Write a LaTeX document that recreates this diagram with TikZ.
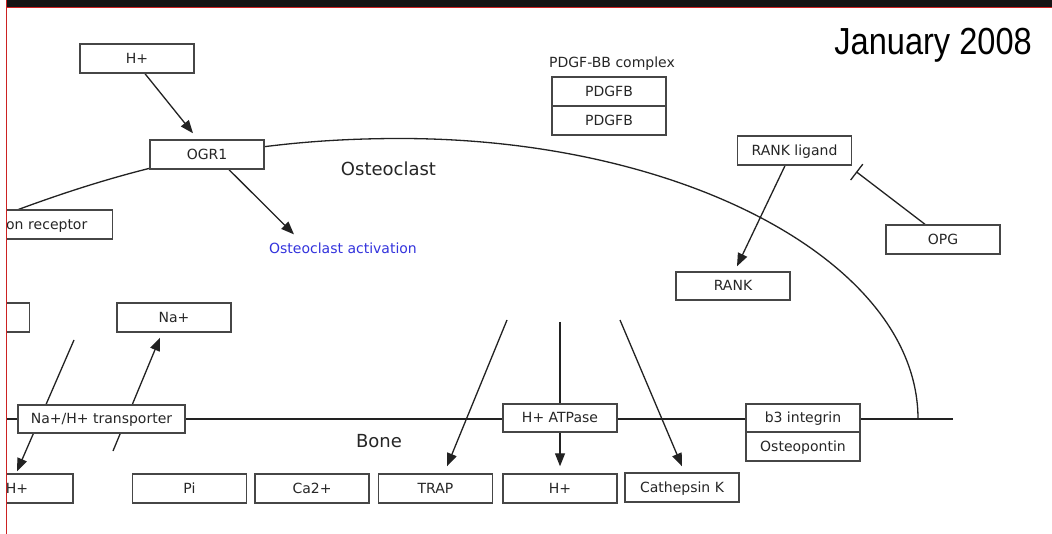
\documentclass[tikz,border=0pt]{standalone}
\usepackage{fontspec}
\setmainfont{DejaVu Sans}
\newfontfamily\datefont{Liberation Sans}
\usetikzlibrary{arrows.meta,calc}
\pgfdeclarelayer{paper}
\pgfdeclarelayer{background}
\pgfsetlayers{paper,background,main}
\definecolor{inkline}{RGB}{34,34,34}
\definecolor{boxline}{RGB}{70,70,70}
\definecolor{labelblue}{RGB}{51,51,221}
\definecolor{framered}{RGB}{204,34,34}
\definecolor{topband}{RGB}{21,21,21}
\begin{document}
\begin{tikzpicture}[x=1pt,y=-1pt,
  entity/.style={draw=boxline, line width=1.4pt, fill=white, minimum width=114pt,
    minimum height=29pt, inner sep=0pt, text height=10.5pt, text depth=1pt,
    font=\fontsize{14}{16}\selectfont, text=black!85},
  caption/.style={inner sep=0pt, font=\fontsize{14}{16}\selectfont, text=black!85},
  region/.style={inner sep=0pt, font=\fontsize{18}{21}\selectfont, text=black!85},
  conn/.style={draw=inkline, line width=1.3pt},
  activates/.style={conn, -{Triangle[length=13pt,width=10pt]}},
  inhibits/.style={conn, -{Bar[width=20pt]}},
]
\useasboundingbox (0,0) rectangle (1052,534);
\begin{pgfonlayer}{paper}
\fill[white] (0,0) rectangle (1052,534);
\end{pgfonlayer}

\begin{scope}
\clip (7,8) rectangle (1052,534);
% entities
\node[entity] (hTop) at (137,58.5) {H+};
\node[entity] (ogr) at (207,154.5) {OGR1};
\node[entity, anchor=east, minimum width=0pt, text width=100pt, align=right,
      inner xsep=25pt] (calrec) at (113,224.5) {on receptor};
\node[entity, anchor=east] (ghost) at (30,317.5) {};
\node[entity] (na) at (174,317.5) {Na+};
\node[entity, minimum width=167pt, minimum height=28pt] (nht) at (101.5,419) {Na+/H+ transporter};
\node[entity, minimum width=112pt] (hLeft) at (17,488.5) {H+};
\node[entity] (pi) at (189.5,488.5) {Pi};
\node[entity] (ca) at (312,488.5) {Ca2+};
\node[entity] (trap) at (435.5,488.5) {TRAP};
\node[entity] (hMid) at (560,488.5) {H+};
\node[entity] (cat) at (682,487.5) {Cathepsin K};
\node[entity, minimum height=28pt] (atp) at (560,418) {H+ ATPase};
\node[entity, minimum height=28pt] (b3) at (803,418) {b3 integrin};
\node[entity] (opn) at (803,446.5) {Osteopontin};
\node[entity] (rankl) at (794.5,150.5) {RANK ligand};
\node[entity, minimum height=28pt] (rank) at (733,286) {RANK};
\node[entity] (opg) at (943,239.5) {OPG};
\node[entity] (pdgfA) at (609,91.5) {PDGFB};
\node[entity] (pdgfB) at (609,120.5) {PDGFB};
% labels
\node[caption] (cplx) at (612,64) {PDGF-BB complex};
\node[region] (cell) at (388.5,169) {Osteoclast};
\node[region] (bone) at (379,441) {Bone};
\node[caption, text=labelblue] (act) at (343,248) {Osteoclast activation};
\node[anchor=base east, inner sep=0pt, font=\datefont\fontsize{37.7}{40}\selectfont]
  (date) at (1032,55) {\scalebox{0.864}[1]{January 2008}};
\end{scope}

% membranes and interactions, kept behind the boxes
\begin{pgfonlayer}{background}
\coordinate (memL) at (7,419);
\coordinate (memR) at (953,419);
\draw[conn] (memL) -- (memR);
% osteoclast outline
\coordinate (cellL) at (17,210);
\coordinate (cellTop) at (400,138.5);
\coordinate (cellR) at (918,419);
\draw[conn] (cellL) .. controls (137,165.6) and (250,138.5) .. (cellTop)
  .. controls (686,138.5) and (918,264) .. (cellR);
\draw[activates] ([xshift=8pt]hTop.south) -- ([xshift=-14pt,yshift=6pt]ogr.north);
\draw[activates] ([xshift=22pt]ogr.south) -- ($(act.north)+(-49,-8)$);
\coordinate (naSrc) at (113,451);
\draw[activates] (naSrc) -- ([xshift=-14pt,yshift=-5pt]na.south);
\coordinate (hSrc) at (74,340);
\draw[activates] (hSrc) -- ([yshift=2pt]hLeft.north);
\coordinate (trapSrc) at (507,320);
\draw[activates] (trapSrc) -- ([xshift=11.5pt,yshift=7pt]trap.north);
\coordinate (hMidSrc) at (560,322);
\draw[activates] (hMidSrc) -- ([yshift=7pt]hMid.north);
\coordinate (catSrc) at (620,320);
\draw[activates] (catSrc) -- ([yshift=6pt]cat.north);
\draw[activates] ([xshift=-9.5pt]rankl.south) -- ([xshift=4pt,yshift=5pt]rank.north);
\draw[inhibits] ([xshift=-18pt]opg.north) -- ([xshift=4pt,yshift=-6pt]rankl.south east);
\end{pgfonlayer}

% page frame
\fill[topband] (6,0) rectangle (1052,7);
\draw[framered, line width=0.8pt] (6,7.4) -- (1052,7.4);
\draw[framered, line width=1.3pt] (6.5,0) -- (6.5,534);
\end{tikzpicture}
\end{document}
